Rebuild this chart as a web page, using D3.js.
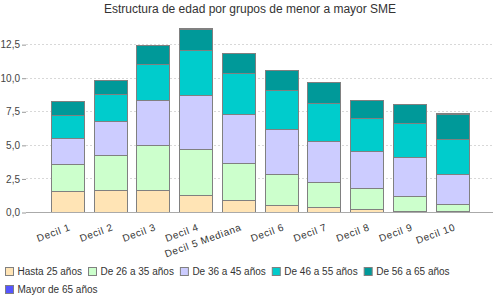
<!DOCTYPE html>
<html>
<head>
<meta charset="utf-8">
<script src="https://cdn.jsdelivr.net/npm/d3@7"></script>
<style>
  body { margin: 0; background: #fff; }
  text { font-family: "Liberation Sans", Arial, sans-serif; }
</style>
</head>
<body>
<div class="chart"></div>
<script>
'use strict';

const categories = ["Decil 1", "Decil 2", "Decil 3", "Decil 4", "Decil 5 Mediana",
                    "Decil 6", "Decil 7", "Decil 8", "Decil 9", "Decil 10"];
const seriesNames = ["Hasta 25 años", "De 26 a 35 años", "De 36 a 45 años",
                     "De 46 a 55 años", "De 56 a 65 años", "Mayor de 65 años"];
const hasta25  = [1.56, 1.64, 1.64, 1.27, 0.89, 0.52, 0.35, 0.20, 0.05, 0.05];
const de26a35  = [2.01, 2.60, 3.35, 3.42, 2.76, 2.31, 1.88, 1.59, 1.14, 0.57];
const de36a45  = [1.94, 2.53, 3.35, 3.99, 3.65, 3.35, 3.06, 2.75, 2.90, 2.21];
const de46a55  = [1.69, 2.01, 2.68, 3.38, 3.05, 2.90, 2.85, 2.46, 2.54, 2.63];
const de56a65  = [1.06, 1.05, 1.39, 1.59, 1.49, 1.49, 1.54, 1.34, 1.41, 1.84];
const mayor65  = [0.00, 0.00, 0.03, 0.08, 0.00, 0.00, 0.00, 0.00, 0.00, 0.07];
const colors   = ["#ffe4b5", "#ccffcc", "#ccccff", "#00cccc", "#009999", "#5555ff"];
const yTicks   = [0, 2.5, 5, 7.5, 10, 12.5];

const W = 500, H = 300;
const plot = {left: 26, right: 493, top: 24, bottom: 212};

const svg = d3.select(".chart").append("svg")
    .attr("width", W).attr("height", H);

// title
svg.append("text")
    .attr("x", W / 2).attr("y", 13)
    .attr("text-anchor", "middle")
    .style("font-size", "12px").style("fill", "#333")
    .text("Estructura de edad por grupos de menor a mayor SME");

const series = [hasta25, de26a35, de36a45, de46a55, de56a65, mayor65];
const rows = categories.map((c, i) => {
    const r = {cat: c};
    seriesNames.forEach((s, k) => r[s] = series[k][i]);
    return r;
});
const stacked = d3.stack().keys(seriesNames)(rows);

const x = d3.scaleBand().domain(categories)
    .range([plot.left, plot.right])
    .paddingInner(0.24).paddingOuter(0.58);
const y = d3.scaleLinear().domain([0, 14]).range([plot.bottom, plot.top]);

// gridlines
svg.append("g").selectAll("line")
    .data(yTicks.filter(t => t > 0))
    .enter().append("line")
    .attr("x1", plot.left).attr("x2", plot.right)
    .attr("y1", d => Math.round(y(d)) + 0.5).attr("y2", d => Math.round(y(d)) + 0.5)
    .style("stroke", "#d8d8d8").style("stroke-dasharray", "2,2");

// y axis (labels + small ticks only)
const yAxis = svg.append("g")
    .attr("transform", "translate(" + plot.left + ",0.5)")
    .call(d3.axisLeft(y).tickValues(yTicks).tickSize(4).tickPadding(2)
        .tickFormat(d => d3.format(".1f")(d).replace(".", ",")));
yAxis.select(".domain").remove();
yAxis.selectAll("line").style("stroke", "#999");
yAxis.selectAll("text").style("font-size", "10px").style("fill", "#444")
    .style("font-family", "'Liberation Sans', Arial, sans-serif");

// bars
svg.append("g").selectAll("g")
    .data(stacked)
    .enter().append("g")
    .style("fill", (d, i) => colors[i])
    .selectAll("rect")
    .data(d => d)
    .enter().append("rect")
    .attr("x", d => Math.round(x(d.data.cat)) + 0.5)
    .attr("y", d => Math.round(y(d[1])) + 0.5)
    .attr("width", Math.round(x.bandwidth()))
    .attr("height", d => Math.max(0, Math.round(y(d[0])) - Math.round(y(d[1]))))
    .style("stroke", "#808080").style("stroke-width", 1);

// baseline
svg.append("line")
    .attr("x1", plot.left).attr("x2", plot.right)
    .attr("y1", plot.bottom + 0.5).attr("y2", plot.bottom + 0.5)
    .style("stroke", "#aaa");

// category labels
svg.append("g").selectAll("text")
    .data(categories)
    .enter().append("text")
    .attr("transform", d => "translate(" + (x(d) + x.bandwidth() / 2 + 4) + "," + 230 + ") rotate(-20)")
    .attr("text-anchor", "end")
    .style("font-size", "10px").style("fill", "#333").style("letter-spacing", "0.6px")
    .text(d => d);

// legend
const legend = svg.append("g");
let lx = 5, ly = 267;
seriesNames.forEach((name, i) => {
    const item = legend.append("g");
    item.append("rect")
        .attr("x", 0.5).attr("y", 0.5).attr("width", 8).attr("height", 8)
        .style("fill", colors[i]).style("stroke", "#808080");
    const t = item.append("text")
        .attr("x", 12.5).attr("y", 8)
        .style("font-size", "10px").style("fill", "#333")
        .text(name);
    const w = 12.5 + t.node().getComputedTextLength() + 6;
    if (lx + w > W - 10) { lx = 5; ly += 18; }
    item.attr("transform", "translate(" + lx + "," + ly + ")");
    lx += w;
});
</script>
</body>
</html>
